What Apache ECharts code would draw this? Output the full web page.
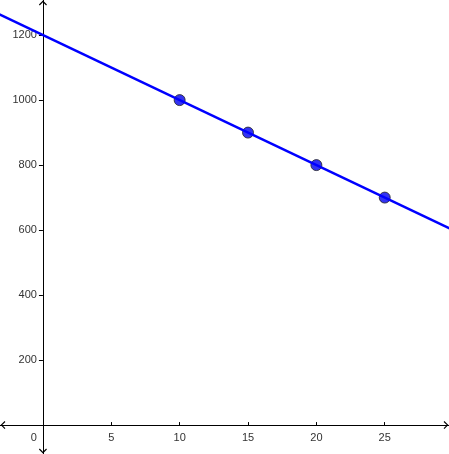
<!DOCTYPE html>
<html>
<head>
<meta charset="utf-8">
<style>
  html, body { margin: 0; padding: 0; background: #fff; }
  #line { width: 449px; height: 454px; }
</style>
<script src="https://cdn.jsdelivr.net/npm/echarts@6/dist/echarts.min.js"></script>
</head>
<body>
<div id="line"></div>
<script>
//---data----------------------------------
var pointX = [10, 15, 20, 25];
var pointY = [1000, 900, 800, 700];
// line runs past the plot on both sides
var lineX = [-5, 30];
var lineY = [1300, 600];
var xTicks = [0, 5, 10, 15, 20, 25];
var yTicks = [200, 400, 600, 800, 1000, 1200];
//------------------------------------------

var CHEVRON = 'path://M0,10 L10,0 L20,10 L18,12 L10,4 L2,12 Z';

function pairs(xs, ys) {
    var out = [];
    for (var i = 0; i < xs.length; i++) {
        out.push([xs[i], ys[i]]);
    }
    return out;
}

function axisLine() {
    return {
        onZero: false,
        lineStyle: { color: '#000', width: 1 },
        symbol: [CHEVRON, CHEVRON],
        symbolSize: [8, 5],
        symbolOffset: [3, -3]
    };
}

function init() {
    var chart = echarts.init(document.getElementById('line'));
    var labelStyle = {
        color: '#333',
        fontSize: 11,
        fontFamily: 'Liberation Sans, Arial, sans-serif'
    };
    chart.setOption({
        animation: false,
        grid: { left: 0, right: 0, top: 0, bottom: 0, outerBoundsMode: 'none' },
        xAxis: {
            type: 'value',
            position: 'bottom',
            min: -3.14,
            max: 29.7,
            splitLine: { show: false },
            axisLine: axisLine(),
            axisTick: { show: true, inside: true, length: 3, customValues: xTicks, lineStyle: { color: '#000' } },
            axisLabel: Object.assign({
                margin: 7,
                customValues: xTicks,
                formatter: function (v) {
                    return v === 0 ? '{z|0}' : String(v);
                },
                rich: { z: { padding: [0, 18, 0, 0], color: '#333', fontSize: 11 } }
            }, labelStyle)
        },
        yAxis: {
            type: 'value',
            position: 'left',
            min: -89,
            max: 1308,
            splitLine: { show: false },
            axisLine: axisLine(),
            axisTick: { show: true, inside: false, length: 4, customValues: yTicks, lineStyle: { color: '#000' } },
            axisLabel: Object.assign({
                margin: 6,
                customValues: yTicks,
                formatter: function (v) { return String(v); }
            }, labelStyle)
        },
        series: [
            {
                type: 'line',
                data: pairs(lineX, lineY),
                showSymbol: false,
                clip: true,
                lineStyle: { color: '#0000ff', width: 2.5 },
                silent: true
            },
            {
                type: 'scatter',
                data: pairs(pointX, pointY),
                symbolSize: 11,
                itemStyle: { color: '#0000ee', borderColor: '#222', borderWidth: 1 }
            }
        ]
    });

    // move both axes onto the origin, labels included
    var origin = chart.convertToPixel({ gridIndex: 0 }, [0, 0]);
    chart.setOption({
        xAxis: { offset: -(chart.getHeight() - origin[1]) },
        yAxis: { offset: -origin[0] }
    });
}

init();
</script>
</body>
</html>
